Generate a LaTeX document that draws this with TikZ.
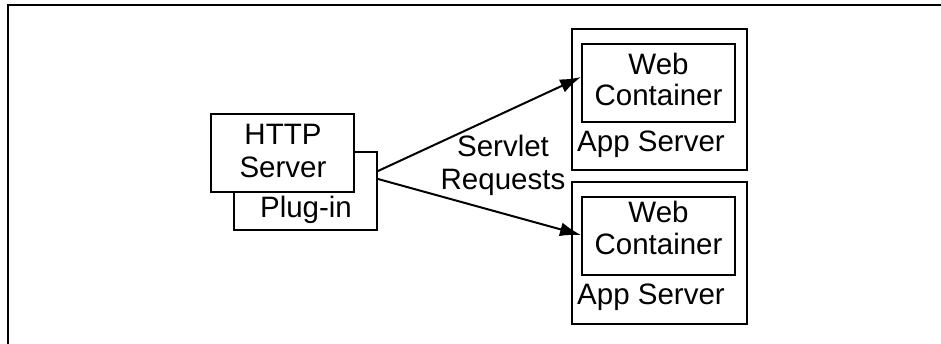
\documentclass[tikz,border=0pt]{standalone}
\usepackage{fontspec}
\setmainfont{Liberation Sans}
\usetikzlibrary{arrows.meta}
\begin{document}
\begin{tikzpicture}[x=1pt,y=-1pt,
  box/.style={draw, line width=2pt, fill=white, inner sep=0pt},
  lbl/.style={anchor=base, inner sep=0pt, font=\fontsize{29.5}{33}\selectfont},
  req/.style={-{Latex[length=21pt,width=14pt]}, line width=2pt}]
\useasboundingbox (0,0) rectangle (941,344);
\draw[line width=2pt] (941,5.5) -- (8,5.5) -- (8,344);
% HTTP server with plug-in
\node[box, minimum width=143pt, minimum height=78pt] (plugin) at (305.5,191) {};
\node[box, minimum width=143pt, minimum height=78pt] (http) at (282.5,153) {};
\node[lbl] (httpa) at (283,145) {HTTP};
\node[lbl] (httpb) at (283,178) {Server};
\node[lbl] (plugintxt) at (306,218) {Plug-in};
% App servers
\node[box, minimum width=175pt, minimum height=141pt] (app1) at (659.5,99.5) {};
\node[box, minimum width=153pt, minimum height=78pt] (web1) at (658.5,83) {};
\node[lbl] (web1a) at (658.5,75) {Web};
\node[lbl] (web1b) at (658.5,106) {Container};
\node[lbl, anchor=base west] (app1txt) at (577,152) {App Server};
\node[box, minimum width=175pt, minimum height=142pt] (app2) at (659.5,253) {};
\node[box, minimum width=153pt, minimum height=78pt] (web2) at (658.5,236) {};
\node[lbl] (web2a) at (658.5,223) {Web};
\node[lbl] (web2b) at (658.5,255) {Container};
\node[lbl, anchor=base west] (app2txt) at (577,305) {App Server};
% requests
\node[lbl] (servlet) at (503,157) {Servlet};
\node[lbl] (requests) at (503,190) {Requests};
\draw[req] ([yshift=-20pt]plugin.north east) -- ([yshift=6pt]web1.west);
\draw[req] ([yshift=-28pt]plugin.north east) -- ([yshift=1pt]web2.west);
\end{tikzpicture}
\end{document}
